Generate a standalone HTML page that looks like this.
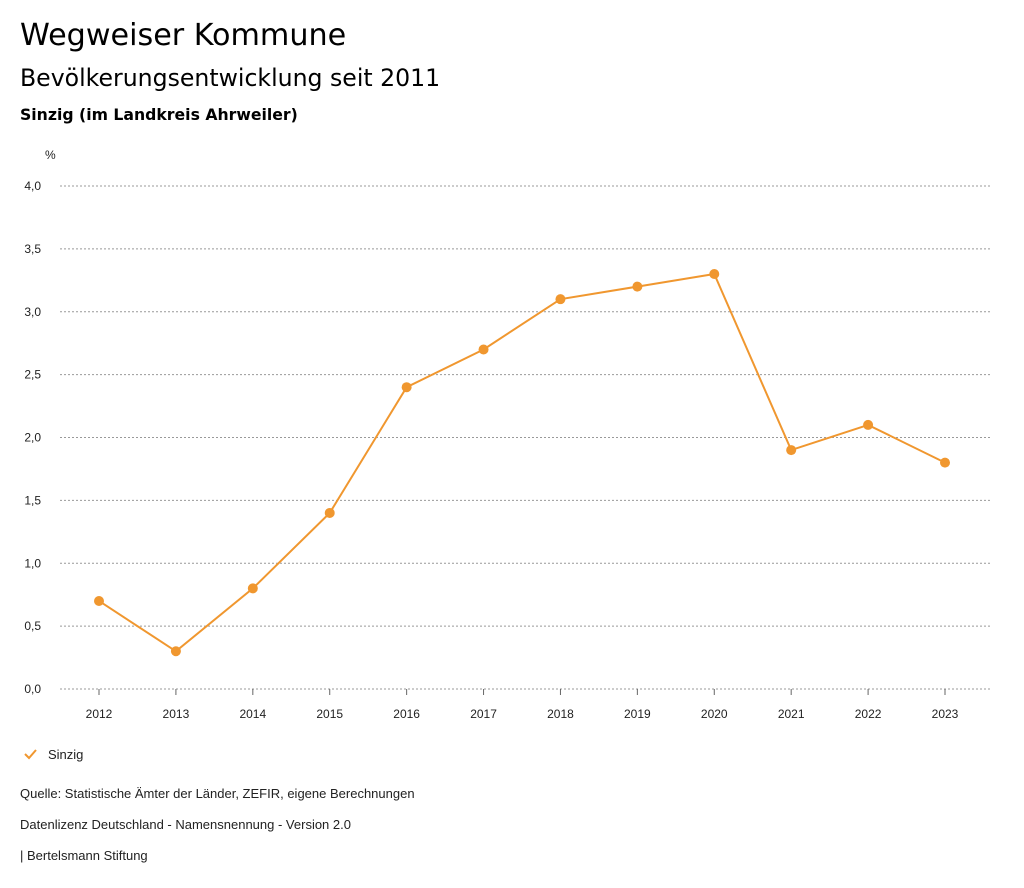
<!DOCTYPE html>
<html><head><meta charset="utf-8"><style>
body{margin:0;background:#fff;width:1024px;height:888px;overflow:hidden;font-family:"Liberation Sans",sans-serif;color:#000}
.t{position:absolute;left:20px;white-space:nowrap}
</style></head><body>
<div class="t" style="top:18px;font-family:'DejaVu Sans',sans-serif;font-size:30.2px">Wegweiser Kommune</div>
<div class="t" style="top:64px;font-family:'DejaVu Sans',sans-serif;font-size:23.6px">Bevölkerungsentwicklung seit 2011</div>
<div class="t" style="top:105px;font-family:'DejaVu Sans',sans-serif;font-size:15.7px;font-weight:bold">Sinzig (im Landkreis Ahrweiler)</div>
<svg id="c" width="1024" height="888" style="position:absolute;left:0;top:0"></svg>
<div class="t" style="top:786px;font-size:13px;color:#222">Quelle: Statistische Ämter der Länder, ZEFIR, eigene Berechnungen</div>
<div class="t" style="top:817px;font-size:13px;color:#222">Datenlizenz Deutschland - Namensnennung - Version 2.0</div>
<div class="t" style="top:848px;font-size:13px;color:#222">| Bertelsmann Stiftung</div>
<script>
const years=["2012","2013","2014","2015","2016","2017","2018","2019","2020","2021","2022","2023"];
const values=[0.7,0.3,0.8,1.4,2.4,2.7,3.1,3.2,3.3,1.9,2.1,1.8];
const yTicks=[0,0.5,1,1.5,2,2.5,3,3.5,4];
const NS="http://www.w3.org/2000/svg",svg=document.getElementById('c');
const x=i=>99+i*(945-99)/11, y=v=>689-v*125.75;
function mk(t,a,p){const e=document.createElementNS(NS,t);for(const k in a)e.setAttribute(k,a[k]);(p||svg).appendChild(e);return e;}
let u=mk('text',{x:45,y:159,'font-size':12,fill:'#222'});u.textContent='%';


yTicks.forEach(v=>{
 const l=mk('line',{x1:60,x2:991,y1:y(v),y2:y(v),stroke:'#999','stroke-dasharray':'2,2','stroke-width':1});
 
 
 const t=mk('text',{x:41,y:y(v)+4,'font-size':12,fill:'#222','text-anchor':'end'});
 t.textContent=v.toFixed(1).replace('.',',');
 
 
});
years.forEach((yr,i)=>{
 const k=mk('line',{x1:x(i),x2:x(i),y1:689,y2:695,stroke:'#666'});
 
 
 const t=mk('text',{x:x(i),y:718,'font-size':12,fill:'#222','text-anchor':'middle'});
 t.textContent=yr;
 
 
});
const p=mk('polyline',{points:values.map((v,i)=>x(i)+','+y(v)).join(' '),fill:'none',stroke:'#f0972f','stroke-width':2});


values.forEach((v,i)=>{
 const c=mk('circle',{cx:x(i),cy:y(v),r:5,fill:'#f0972f'});
 
 
});
const lg=mk('g',{});


mk('polyline',{points:'25,754 29,758 36,750',fill:'none',stroke:'#f0972f','stroke-width':2},lg);
const lt=mk('text',{x:48,y:759,'font-size':13,fill:'#222'},lg);lt.textContent='Sinzig';
</script>
</body></html>
